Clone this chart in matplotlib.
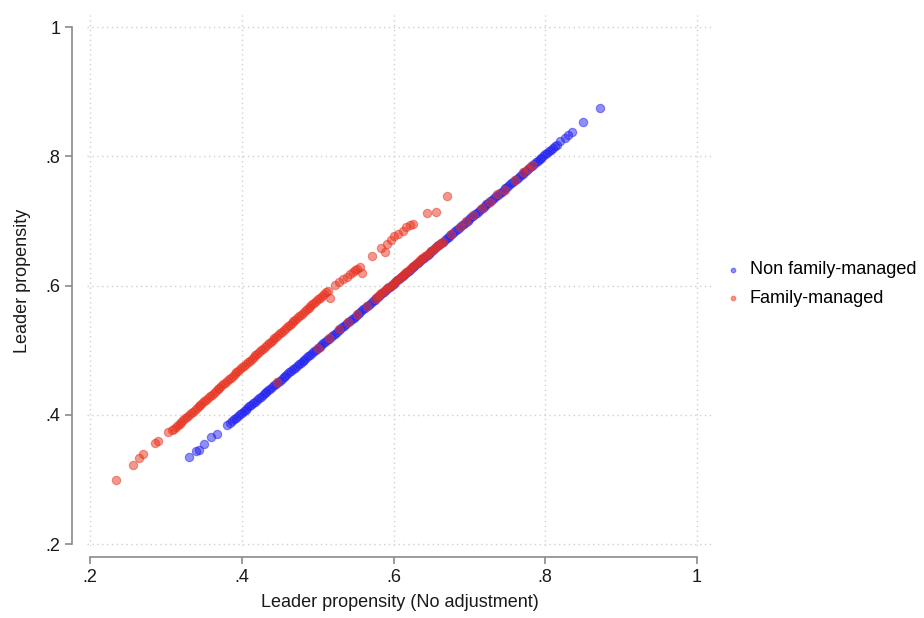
import matplotlib.pyplot as plt

plt.rcParams['font.family'] = ['Liberation Sans', 'DejaVu Sans']

# Non family-managed firms (x = no adjustment, y = adjusted)
blue_x = [0.330, 0.340, 0.343, 0.350, 0.360, 0.367, 0.380,
          0.3850, 0.3875, 0.3900, 0.3925, 0.3950, 0.3975, 0.4000, 0.4025, 0.4050, 0.4075,
          0.4100, 0.4125, 0.4150, 0.4175, 0.4200, 0.4225, 0.4250, 0.4275, 0.4300, 0.4325,
          0.4350, 0.4375, 0.4400, 0.4425, 0.4450, 0.4475, 0.4500, 0.4525, 0.4550, 0.4575,
          0.4600, 0.4625, 0.4650, 0.4675, 0.4700, 0.4725, 0.4750, 0.4775, 0.4800, 0.4825,
          0.4850, 0.4875, 0.4900, 0.4925, 0.4950, 0.4975, 0.5000, 0.5025, 0.5050, 0.5075,
          0.5100, 0.5125, 0.5150, 0.5175, 0.5200, 0.5225, 0.5250, 0.5275, 0.5300, 0.5325,
          0.5350, 0.5375, 0.5400, 0.5425, 0.5450, 0.5475, 0.5500, 0.5525, 0.5550, 0.5575,
          0.5600, 0.5625, 0.5650, 0.5675, 0.5700, 0.5725, 0.5750, 0.5775, 0.5800, 0.5825,
          0.5850, 0.5875, 0.5900, 0.5925, 0.5950, 0.5975, 0.6000, 0.6025, 0.6050, 0.6075,
          0.6100, 0.6125, 0.6150, 0.6175, 0.6200, 0.6225, 0.6250, 0.6275, 0.6300, 0.6325,
          0.6350, 0.6375, 0.6400, 0.6425, 0.6450, 0.6475, 0.6500, 0.6525, 0.6550, 0.6575,
          0.6600, 0.6625, 0.6650, 0.6675, 0.6700, 0.6725, 0.6750, 0.6775, 0.6800, 0.6825,
          0.6850, 0.6875, 0.6900, 0.6925, 0.6950, 0.6975, 0.7000, 0.7025, 0.7050, 0.7075,
          0.7100, 0.7125, 0.7150, 0.7175, 0.7200, 0.7225, 0.7250, 0.7275, 0.7300, 0.7325,
          0.7350, 0.7375, 0.7400, 0.7425, 0.7450, 0.7475, 0.7500, 0.7525, 0.7550, 0.7575,
          0.7600, 0.7625, 0.7650, 0.7675, 0.7700, 0.7725, 0.7750, 0.7775, 0.7800, 0.7825,
          0.7850, 0.7875, 0.7900, 0.7925, 0.7950, 0.7975, 0.8000, 0.8025, 0.8050, 0.8075,
          0.8100, 0.8125, 0.8150,
          0.820, 0.826, 0.830, 0.835, 0.850, 0.872]
blue_y = [0.334, 0.344, 0.346, 0.355, 0.365, 0.371, 0.384,
          0.3880, 0.3905, 0.3930, 0.3955, 0.3980, 0.4005, 0.4030, 0.4055, 0.4080, 0.4105,
          0.4130, 0.4155, 0.4180, 0.4205, 0.4230, 0.4255, 0.4280, 0.4305, 0.4330, 0.4355,
          0.4380, 0.4405, 0.4430, 0.4455, 0.4480, 0.4505, 0.4530, 0.4555, 0.4580, 0.4605,
          0.4630, 0.4655, 0.4680, 0.4705, 0.4730, 0.4755, 0.4780, 0.4805, 0.4830, 0.4855,
          0.4880, 0.4905, 0.4930, 0.4955, 0.4980, 0.5005, 0.5030, 0.5055, 0.5080, 0.5105,
          0.5130, 0.5155, 0.5180, 0.5205, 0.5230, 0.5255, 0.5280, 0.5305, 0.5330, 0.5355,
          0.5380, 0.5405, 0.5430, 0.5455, 0.5480, 0.5505, 0.5530, 0.5555, 0.5580, 0.5605,
          0.5630, 0.5655, 0.5680, 0.5705, 0.5730, 0.5755, 0.5780, 0.5805, 0.5830, 0.5855,
          0.5880, 0.5905, 0.5930, 0.5955, 0.5980, 0.6005, 0.6030, 0.6055, 0.6080, 0.6105,
          0.6130, 0.6155, 0.6180, 0.6205, 0.6230, 0.6255, 0.6280, 0.6305, 0.6330, 0.6355,
          0.6380, 0.6405, 0.6430, 0.6455, 0.6480, 0.6505, 0.6530, 0.6555, 0.6580, 0.6605,
          0.6630, 0.6655, 0.6680, 0.6705, 0.6730, 0.6755, 0.6780, 0.6805, 0.6830, 0.6855,
          0.6880, 0.6905, 0.6930, 0.6955, 0.6980, 0.7005, 0.7030, 0.7055, 0.7080, 0.7105,
          0.7130, 0.7155, 0.7180, 0.7205, 0.7230, 0.7255, 0.7280, 0.7305, 0.7330, 0.7355,
          0.7380, 0.7405, 0.7430, 0.7455, 0.7480, 0.7505, 0.7530, 0.7555, 0.7580, 0.7605,
          0.7630, 0.7655, 0.7680, 0.7705, 0.7730, 0.7755, 0.7780, 0.7805, 0.7830, 0.7855,
          0.7880, 0.7905, 0.7930, 0.7955, 0.7980, 0.8005, 0.8030, 0.8055, 0.8080, 0.8105,
          0.8130, 0.8155, 0.8180,
          0.824, 0.829, 0.833, 0.838, 0.853, 0.874]

# Family-managed firms: upper band
red_up_x = [0.234, 0.256, 0.265, 0.270, 0.286, 0.289, 0.303,
            0.3080, 0.3105, 0.3130, 0.3155, 0.3180, 0.3205, 0.3230, 0.3255, 0.3280, 0.3305,
            0.3330, 0.3355, 0.3380, 0.3405, 0.3430, 0.3455, 0.3480, 0.3505, 0.3530, 0.3555,
            0.3580, 0.3605, 0.3630, 0.3655, 0.3680, 0.3705, 0.3730, 0.3755, 0.3780, 0.3805,
            0.3830, 0.3855, 0.3880, 0.3905, 0.3930, 0.3955, 0.3980, 0.4005, 0.4030, 0.4055,
            0.4080, 0.4105, 0.4130, 0.4155, 0.4180, 0.4205, 0.4230, 0.4255, 0.4280, 0.4305,
            0.4330, 0.4355, 0.4380, 0.4405, 0.4430, 0.4455, 0.4480, 0.4505, 0.4530, 0.4555,
            0.4580, 0.4605, 0.4630, 0.4655, 0.4680, 0.4705, 0.4730, 0.4755, 0.4780, 0.4805,
            0.4830, 0.4855, 0.4880, 0.4905, 0.4930, 0.4955, 0.4980, 0.5005, 0.5030, 0.5055,
            0.5080, 0.5105, 0.5130,
            0.516, 0.523, 0.528, 0.534, 0.538, 0.542, 0.546, 0.549, 0.552, 0.556,
            0.558, 0.571, 0.584, 0.589, 0.591, 0.596, 0.601, 0.606, 0.612, 0.617,
            0.622, 0.625, 0.644, 0.656, 0.671]
red_up_y = [0.299, 0.323, 0.333, 0.339, 0.356, 0.359, 0.374,
            0.3760, 0.3786, 0.3813, 0.3839, 0.3865, 0.3892, 0.3918, 0.3944, 0.3971, 0.3997,
            0.4023, 0.4050, 0.4076, 0.4102, 0.4129, 0.4155, 0.4181, 0.4208, 0.4234, 0.4260,
            0.4287, 0.4313, 0.4340, 0.4366, 0.4392, 0.4419, 0.4445, 0.4471, 0.4498, 0.4524,
            0.4550, 0.4577, 0.4603, 0.4629, 0.4656, 0.4682, 0.4708, 0.4735, 0.4761, 0.4787,
            0.4814, 0.4840, 0.4866, 0.4893, 0.4919, 0.4945, 0.4972, 0.4998, 0.5024, 0.5051,
            0.5077, 0.5104, 0.5130, 0.5156, 0.5183, 0.5209, 0.5235, 0.5262, 0.5288, 0.5314,
            0.5341, 0.5367, 0.5393, 0.5420, 0.5446, 0.5472, 0.5499, 0.5525, 0.5551, 0.5578,
            0.5604, 0.5630, 0.5657, 0.5683, 0.5709, 0.5736, 0.5762, 0.5788, 0.5815, 0.5841,
            0.5867, 0.5894, 0.5920,
            0.580, 0.601, 0.605, 0.610, 0.614, 0.618, 0.621, 0.624, 0.626, 0.629,
            0.620, 0.645, 0.658, 0.652, 0.665, 0.670, 0.676, 0.680, 0.685, 0.690,
            0.694, 0.696, 0.712, 0.714, 0.738]

# Family-managed firms lying on the diagonal
red_lo_x = [0.446, 0.500, 0.515, 0.528, 0.540, 0.552, 0.565,
            0.575, 0.578, 0.581, 0.584, 0.587, 0.590, 0.593, 0.596, 0.599, 0.602,
            0.605, 0.608, 0.611, 0.614, 0.617, 0.620, 0.623, 0.626, 0.629, 0.632,
            0.635, 0.638, 0.641, 0.644, 0.647, 0.650, 0.653, 0.656, 0.659, 0.662,
            0.665, 0.676, 0.687, 0.696, 0.705, 0.716, 0.727, 0.737, 0.747, 0.760,
            0.771, 0.777, 0.782]
red_lo_y = [0.450, 0.504, 0.519, 0.532, 0.544, 0.556, 0.569,
            0.579, 0.582, 0.585, 0.588, 0.591, 0.594, 0.597, 0.600, 0.603, 0.606,
            0.609, 0.612, 0.615, 0.618, 0.621, 0.624, 0.627, 0.630, 0.633, 0.636,
            0.639, 0.642, 0.645, 0.648, 0.651, 0.654, 0.657, 0.660, 0.663, 0.666,
            0.668, 0.680, 0.691, 0.700, 0.709, 0.720, 0.730, 0.741, 0.748, 0.764,
            0.775, 0.781, 0.787]

ticks = [0.2, 0.4, 0.6, 0.8, 1.0]
tick_labels = ['.2', '.4', '.6', '.8', '1']

blue = '#2020f0'
red = '#e8321e'

fig = plt.figure(figsize=(9.24, 6.18), dpi=100)
ax = fig.add_axes([0.0942, 0.1165, 0.6764, 0.8592])

ax.scatter(blue_x, blue_y, s=36, color=blue, alpha=0.5, linewidths=0.8,
           label='Non family-managed', zorder=3)
ax.scatter(red_up_x + red_lo_x, red_up_y + red_lo_y, s=36, color=red, alpha=0.5,
           linewidths=0.8, label='Family-managed', zorder=4)

ax.set_xlim(0.196, 1.0198)
ax.set_ylim(0.197, 1.0186)
ax.set_xticks(ticks)
ax.set_xticklabels(tick_labels)
ax.set_yticks(ticks)
ax.set_yticklabels(tick_labels)

ax.grid(True, color='#cfcfcf', linestyle=(0, (1, 2.5)), linewidth=1)
ax.set_axisbelow(True)

for side in ['top', 'right']:
    ax.spines[side].set_visible(False)
ax.spines['left'].set_position(('outward', 10.8))
ax.spines['bottom'].set_position(('outward', 8))
ax.spines['left'].set_bounds(0.2, 1)
ax.spines['bottom'].set_bounds(0.2, 1)
for side in ['left', 'bottom']:
    ax.spines[side].set_color('#8a8a8a')
    ax.spines[side].set_linewidth(1.2)
ax.tick_params(axis='both', colors='#8a8a8a', length=5, width=1.2,
               labelsize=13, labelcolor='#1a1a1a')

ax.set_xlabel('Leader propensity (No adjustment)', fontsize=13, color='#1a1a1a', labelpad=6)
ax.set_ylabel('Leader propensity', fontsize=13, color='#1a1a1a', labelpad=10)

fig.legend(loc='center left', bbox_to_anchor=(0.783, 0.54), frameon=False,
           fontsize=13, handletextpad=0.45, markerscale=0.55, labelspacing=0.65,
           borderaxespad=0, handlelength=1.0, borderpad=0)

fig.savefig('out.png', dpi=100)
